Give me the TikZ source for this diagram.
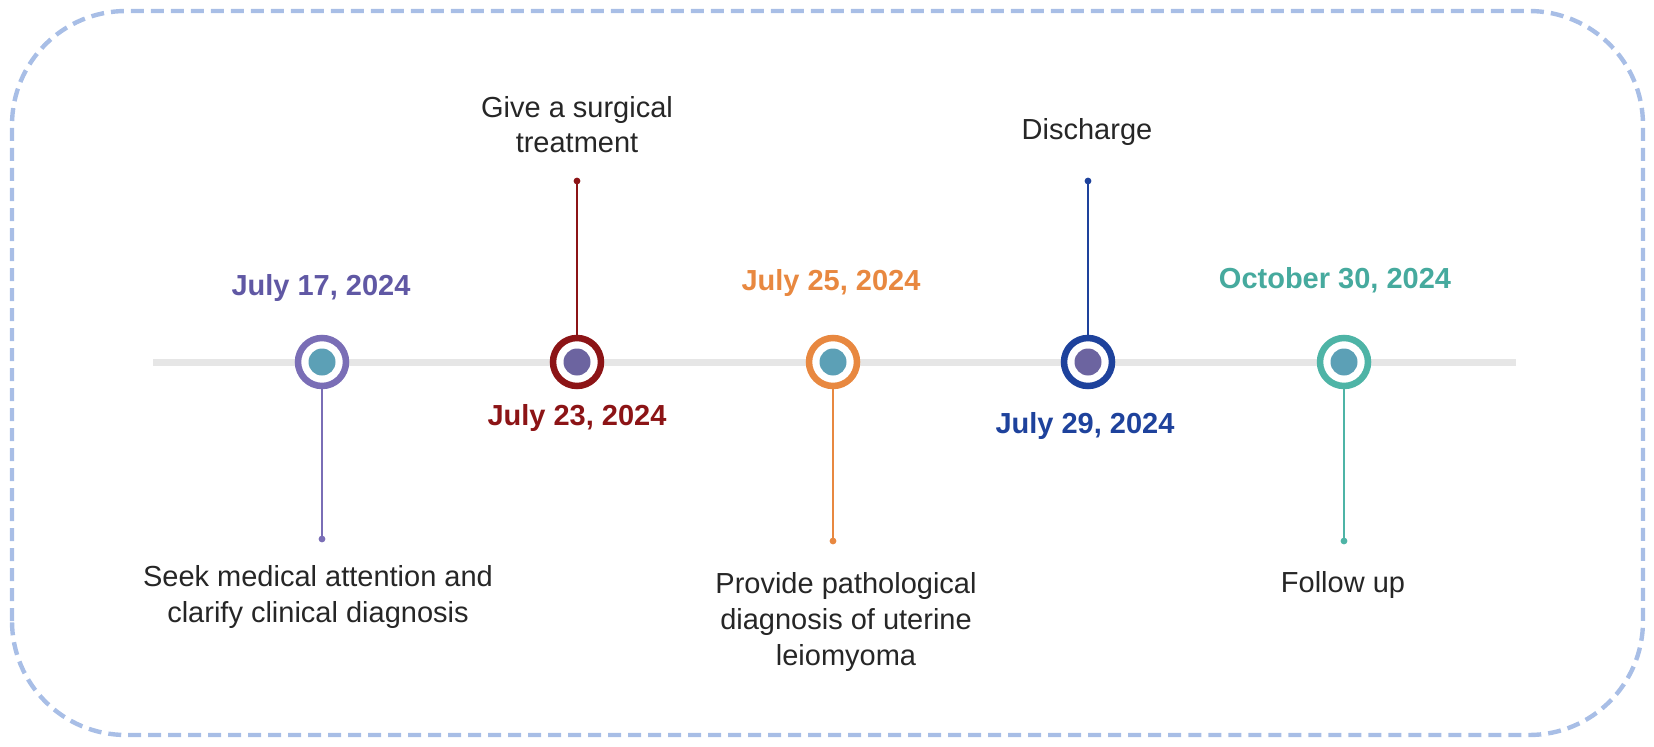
\documentclass[tikz,border=0pt]{standalone}
\usepackage{fontspec}
\setmainfont{Liberation Sans}
\definecolor{framecol}{RGB}{168,190,230}
\definecolor{linecol}{RGB}{230,230,230}
\definecolor{purp}{RGB}{122,110,182}
\definecolor{purptxt}{RGB}{96,88,164}
\definecolor{wine}{RGB}{140,20,22}
\definecolor{orng}{RGB}{232,136,64}
\definecolor{navy}{RGB}{30,66,156}
\definecolor{sea}{RGB}{78,180,166}
\definecolor{seatxt}{RGB}{70,170,158}
\definecolor{dotteal}{RGB}{92,160,182}
\definecolor{dotpurp}{RGB}{108,100,160}
\tikzset{
  ring/.style={circle, draw=#1, fill=white, line width=3.25pt, minimum size=24pt, inner sep=0pt},
  core/.style={circle, fill=#1, minimum size=13.5pt, inner sep=0pt},
  stem/.style={draw=#1, line width=1.2pt},
  date/.style={font=\fontsize{14.5}{18}\selectfont\bfseries, text=#1, anchor=base, inner sep=0pt},
  desc/.style={font=\fontsize{14.5}{18}\selectfont, text=black!85, align=center, anchor=base, inner sep=0pt}
}
\begin{document}
\begin{tikzpicture}[x=0.5pt, y=0.5pt]
  \useasboundingbox (0,0) rectangle (1654,746);
  % frame
  \draw[framecol, line width=2.2pt, dash pattern=on 6.5pt off 3.5pt, rounded corners=57pt]
    (12,11) rectangle (1643,735);
  % time axis
  \coordinate (tl) at (153,384);
  \coordinate (tr) at (1516,384);
  \draw[linecol, line width=3.5pt] (tl) -- (tr);

  % stem ends
  \coordinate (e1) at (322,207);
  \coordinate (e2) at (577,565);
  \coordinate (e3) at (833,205);
  \coordinate (e4) at (1088,565);
  \coordinate (e5) at (1344,205);

  % markers
  \node[ring=purp] (c1) at (322,384) {};
  \node[ring=wine] (c2) at (577,384) {};
  \node[ring=orng] (c3) at (833,384) {};
  \node[ring=navy] (c4) at (1088,384) {};
  \node[ring=sea]  (c5) at (1344,384) {};
  \node[core=dotteal] (d1) at (c1) {};
  \node[core=dotpurp] (d2) at (c2) {};
  \node[core=dotteal] (d3) at (c3) {};
  \node[core=dotpurp] (d4) at (c4) {};
  \node[core=dotteal] (d5) at (c5) {};

  % stems
  \draw[stem=purp] (c1.south) -- (e1);
  \draw[stem=wine] (c2.north) -- (e2);
  \draw[stem=orng] (c3.south) -- (e3);
  \draw[stem=navy] (c4.north) -- (e4);
  \draw[stem=sea]  (c5.south) -- (e5);
  \fill[purp] (e1) circle (1.7pt);
  \fill[wine] (e2) circle (1.7pt);
  \fill[orng] (e3) circle (1.7pt);
  \fill[navy] (e4) circle (1.7pt);
  \fill[sea]  (e5) circle (1.7pt);

  % dates
  \node[date=purptxt] (t1) at (321,451) {July 17, 2024};
  \node[date=wine]    (t2) at (577,321) {July 23, 2024};
  \node[date=orng]    (t3) at (831,456) {July 25, 2024};
  \node[date=navy]    (t4) at (1085,313) {July 29, 2024};
  \node[date=seatxt]  (t5) at (1335,458) {October 30, 2024};

  % events (base = last line)
  \node[desc] (s1) at (318,124) {Seek medical attention and\\clarify clinical diagnosis};
  \node[desc] (s2) at (577,593) {Give a surgical\\treatment};
  \node[desc] (s3) at (846,81) {Provide pathological\\diagnosis of uterine\\leiomyoma};
  \node[desc] (s4) at (1087,606) {Discharge};
  \node[desc] (s5) at (1343,154) {Follow up};
\end{tikzpicture}
\end{document}
